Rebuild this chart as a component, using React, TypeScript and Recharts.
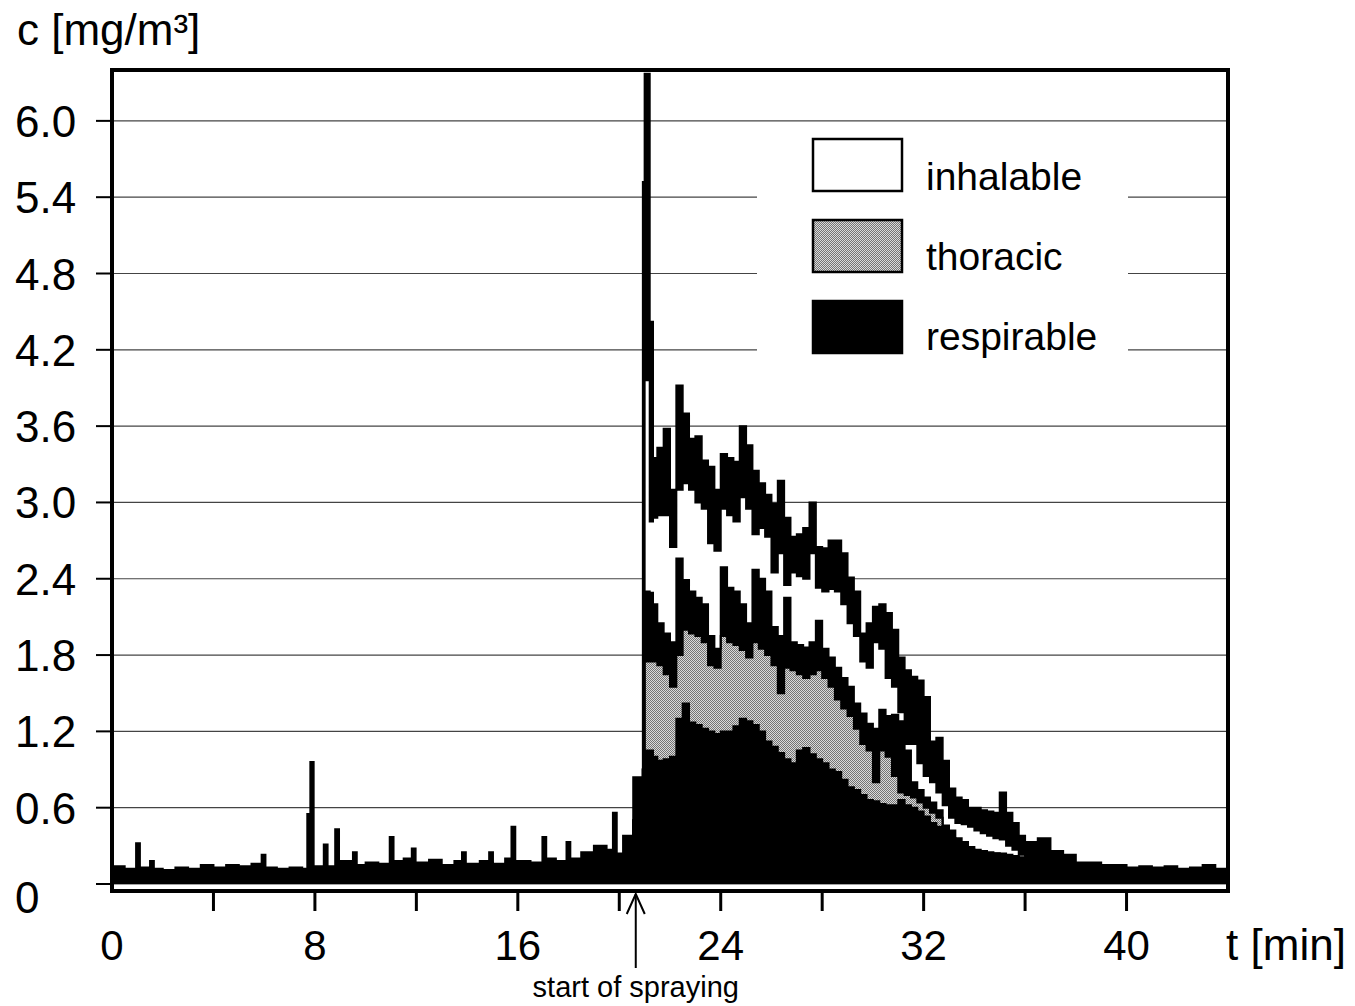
import React from "react";
import {
  Area,
  CartesianGrid,
  ComposedChart,
  Legend,
  ReferenceArea,
  ReferenceLine,
  XAxis,
  YAxis,
} from "recharts";

// sample start times [min]; baseline coarse with short spike slots, peak every 0.25 min
const timeMin = [
  0, 0.5, 0.95, 1.1, 1.5, 1.65, 2, 2.5, 3, 3.5,
  4, 4.5, 5, 5.5, 5.9, 6.05, 6.5, 7, 7.5, 7.7,
  7.82, 7.95, 8.35, 8.5, 8.8, 8.95, 9.5, 9.65, 10, 10.5,
  10.95, 11.1, 11.5, 11.82, 11.97, 12.5, 13, 13.5, 13.8, 13.95,
  14.5, 14.87, 15.02, 15.5, 15.75, 15.9, 16.5, 16.97, 17.12, 17.5,
  17.92, 18.07, 18.5, 19, 19.5, 19.75, 19.9, 20.15, 20.55, 20.93,
  21, 21.2, 21.33,
  21.5, 21.75, 22, 22.25, 22.5, 22.75, 23, 23.25, 23.5, 23.75,
  24, 24.25, 24.5, 24.75, 25, 25.25, 25.5, 25.75, 26, 26.25,
  26.5, 26.75, 27, 27.25, 27.5, 27.75, 28, 28.25, 28.5, 28.75,
  29, 29.25, 29.5, 29.75, 30, 30.25, 30.5, 30.75, 31, 31.25,
  31.5, 31.75, 32, 32.25, 32.5, 32.75, 33, 33.25, 33.5, 33.75,
  34, 34.25, 34.5, 34.75, 35, 35.25, 35.5, 35.75, 36, 36.25,
  36.5, 37, 37.5, 38, 38.5, 39, 39.5, 40, 40.5, 41,
  41.5, 42, 42.5, 43, 43.5, 44,
];

// inhalable: upper and lower edge of the fluctuating trace [mg/m³]
const inhalableHi = [
  0.14, 0.12, 0.32, 0.13, 0.18, 0.12, 0.11, 0.13, 0.12, 0.15,
  0.13, 0.15, 0.14, 0.16, 0.23, 0.13, 0.12, 0.13, 0.12, 0.55,
  0.96, 0.14, 0.31, 0.14, 0.43, 0.18, 0.25, 0.15, 0.17, 0.16,
  0.37, 0.18, 0.2, 0.28, 0.17, 0.19, 0.15, 0.18, 0.25, 0.16,
  0.18, 0.25, 0.16, 0.2, 0.45, 0.18, 0.17, 0.37, 0.2, 0.18,
  0.33, 0.2, 0.25, 0.3, 0.27, 0.56, 0.24, 0.38, 0.84, 5.52,
  6.37, 4.42, 3.35,
  3.43, 3.58, 3.1, 3.92, 3.7, 3.5, 3.52, 3.33, 3.28, 3.1,
  3.38, 3.35, 3.32, 3.6, 3.45, 3.25, 3.15, 3.06, 2.99, 3.17,
  2.88, 2.73, 2.75, 2.8, 3.0, 2.65, 2.64, 2.7, 2.7, 2.6,
  2.41, 2.3, 1.97, 2.05, 2.18, 2.2, 2.13, 2.0, 1.78, 1.68,
  1.63, 1.6, 1.47, 1.12, 1.15, 0.97, 0.75, 0.68, 0.66, 0.6,
  0.6, 0.58, 0.57, 0.56, 0.72, 0.56, 0.48, 0.38, 0.33, 0.33,
  0.36, 0.26, 0.23, 0.17, 0.17, 0.15, 0.15, 0.13, 0.14, 0.13,
  0.14, 0.12, 0.13, 0.15, 0.12, 0.12,
];
const inhalableLo = [
  0.06, 0.05, 0.06, 0.06, 0.05, 0.06, 0.05, 0.06, 0.05, 0.06,
  0.06, 0.05, 0.06, 0.06, 0.06, 0.05, 0.06, 0.05, 0.06, 0.06,
  0.06, 0.06, 0.06, 0.05, 0.06, 0.06, 0.06, 0.06, 0.07, 0.06,
  0.07, 0.06, 0.07, 0.07, 0.06, 0.07, 0.06, 0.07, 0.07, 0.06,
  0.07, 0.07, 0.06, 0.07, 0.07, 0.07, 0.07, 0.08, 0.07, 0.07,
  0.08, 0.07, 0.08, 0.08, 0.08, 0.09, 0.08, 0.1, 0.5, 0.9,
  3.96, 2.85, 2.88,
  2.9, 2.9, 2.65, 3.1, 3.15, 3.1, 3.0, 2.95, 2.68, 2.62,
  2.95, 2.9, 2.85, 3.04, 2.95, 2.75, 2.8, 2.73, 2.45, 2.6,
  2.35, 2.45, 2.42, 2.4, 2.6, 2.33, 2.3, 2.32, 2.3, 2.2,
  2.05, 1.95, 1.75, 1.7, 1.9, 1.85, 1.62, 1.55, 1.35, 1.1,
  1.1, 0.95, 0.85, 0.8, 0.72, 0.62, 0.52, 0.48, 0.47, 0.45,
  0.42, 0.4, 0.38, 0.36, 0.35, 0.3, 0.27, 0.23, 0.2, 0.18,
  0.15, 0.13, 0.12, 0.11, 0.1, 0.09, 0.08, 0.08, 0.07, 0.07,
  0.07, 0.07, 0.06, 0.06, 0.06, 0.06,
];

// thoracic: upper and lower edge of the trace
const thoracicHi = [
  0.06, 0.05, 0.06, 0.06, 0.05, 0.06, 0.05, 0.06, 0.05, 0.06,
  0.06, 0.05, 0.06, 0.06, 0.06, 0.05, 0.06, 0.05, 0.06, 0.06,
  0.06, 0.06, 0.06, 0.05, 0.06, 0.06, 0.06, 0.06, 0.07, 0.06,
  0.07, 0.06, 0.07, 0.07, 0.06, 0.07, 0.06, 0.07, 0.07, 0.06,
  0.07, 0.07, 0.06, 0.07, 0.07, 0.07, 0.07, 0.08, 0.07, 0.07,
  0.08, 0.07, 0.08, 0.08, 0.08, 0.09, 0.08, 0.1, 0.5, 0.9,
  2.3, 2.29, 2.2,
  2.05, 1.97, 1.9, 2.56, 2.39, 2.3, 2.25, 2.2, 1.95, 1.85,
  2.49, 2.33, 2.3, 2.2, 2.05, 2.47, 2.4, 2.3, 2.02, 1.95,
  2.25, 1.9, 1.88, 1.86, 1.9, 2.07, 1.85, 1.78, 1.7, 1.62,
  1.55, 1.42, 1.34, 1.26, 1.22, 1.37, 1.32, 1.33, 1.28, 1.05,
  0.8, 0.74, 0.68, 0.64, 0.58, 0.46, 0.42, 0.36, 0.33, 0.29,
  0.27, 0.26, 0.25, 0.24, 0.24, 0.23, 0.22, 0.21, 0.19, 0.17,
  0.15, 0.13, 0.12, 0.11, 0.1, 0.09, 0.08, 0.08, 0.07, 0.07,
  0.07, 0.07, 0.06, 0.06, 0.06, 0.06,
];
const thoracicLo = [
  0.06, 0.05, 0.06, 0.06, 0.05, 0.06, 0.05, 0.06, 0.05, 0.06,
  0.06, 0.05, 0.06, 0.06, 0.06, 0.05, 0.06, 0.05, 0.06, 0.06,
  0.06, 0.06, 0.06, 0.05, 0.06, 0.06, 0.06, 0.06, 0.07, 0.06,
  0.07, 0.06, 0.07, 0.07, 0.06, 0.07, 0.06, 0.07, 0.07, 0.06,
  0.07, 0.07, 0.06, 0.07, 0.07, 0.07, 0.07, 0.08, 0.07, 0.07,
  0.08, 0.07, 0.08, 0.08, 0.08, 0.09, 0.08, 0.1, 0.5, 0.9,
  1.75, 1.75, 1.75,
  1.72, 1.65, 1.55, 1.8, 2.0, 1.97, 1.95, 1.9, 1.72, 1.7,
  1.95, 1.9, 1.88, 1.84, 1.78, 1.9, 1.85, 1.8, 1.72, 1.5,
  1.7, 1.68, 1.65, 1.62, 1.65, 1.68, 1.62, 1.55, 1.45, 1.38,
  1.32, 1.22, 1.1, 1.05, 0.8, 1.05, 1.0, 0.85, 0.72, 0.7,
  0.68, 0.64, 0.6, 0.56, 0.52, 0.4, 0.36, 0.32, 0.3, 0.27,
  0.26, 0.25, 0.24, 0.24, 0.23, 0.22, 0.21, 0.2, 0.19, 0.17,
  0.15, 0.13, 0.12, 0.11, 0.1, 0.09, 0.08, 0.08, 0.07, 0.07,
  0.07, 0.07, 0.06, 0.06, 0.06, 0.06,
];

// respirable
const respirable = [
  0.06, 0.05, 0.06, 0.06, 0.05, 0.06, 0.05, 0.06, 0.05, 0.06,
  0.06, 0.05, 0.06, 0.06, 0.06, 0.05, 0.06, 0.05, 0.06, 0.06,
  0.06, 0.06, 0.06, 0.05, 0.06, 0.06, 0.06, 0.06, 0.07, 0.06,
  0.07, 0.06, 0.07, 0.07, 0.06, 0.07, 0.06, 0.07, 0.07, 0.06,
  0.07, 0.07, 0.06, 0.07, 0.07, 0.07, 0.07, 0.08, 0.07, 0.07,
  0.08, 0.07, 0.08, 0.08, 0.08, 0.09, 0.08, 0.1, 0.5, 0.9,
  1.05, 1.05, 1.0,
  0.97, 0.98, 1.0, 1.3, 1.42, 1.27, 1.25, 1.22, 1.2, 1.18,
  1.2, 1.2, 1.24, 1.3, 1.28, 1.25, 1.2, 1.12, 1.08, 1.03,
  0.98, 0.95, 1.05, 1.07, 1.02, 0.98, 0.95, 0.9, 0.88, 0.82,
  0.76, 0.74, 0.7, 0.66, 0.65, 0.63, 0.62, 0.62, 0.66, 0.62,
  0.6, 0.57, 0.53, 0.48, 0.45, 0.4, 0.36, 0.32, 0.3, 0.27,
  0.26, 0.25, 0.24, 0.24, 0.23, 0.22, 0.21, 0.2, 0.19, 0.17,
  0.15, 0.13, 0.12, 0.11, 0.1, 0.09, 0.08, 0.08, 0.07, 0.07,
  0.07, 0.07, 0.06, 0.06, 0.06, 0.06,
];

const yTicks = [0, 0.6, 1.2, 1.8, 2.4, 3.0, 3.6, 4.2, 4.8, 5.4, 6.0];
const xTicks = [0, 4, 8, 12, 16, 20, 24, 28, 32, 36, 40, 44];
const xLabelled = [0, 8, 16, 24, 32, 40];
const sprayStartMin = 20.65;
const legendItems = [
  { name: "inhalable", fill: "#ffffff" },
  { name: "thoracic", fill: "url(#stippleLegend)" },
  { name: "respirable", fill: "#000000" },
];

const FONT = '"Liberation Sans", Arial, Helvetica, sans-serif';

const rows = timeMin.map((t, i) => ({
  t,
  inhHi: inhalableHi[i],
  inhBand: [inhalableLo[i], inhalableHi[i]],
  thorHi: thoracicHi[i],
  thorBand: [thoracicLo[i], thoracicHi[i]],
  resp: respirable[i],
}));

function Stipple({ id }: { id: string }) {
  return (
    <pattern id={id} width={2} height={2} patternUnits="userSpaceOnUse">
      <rect width={2} height={2} fill="#dadada" />
      <rect width={1} height={1} fill="#747474" />
      <rect x={1} y={1} width={1} height={1} fill="#747474" />
    </pattern>
  );
}

function YTick(props: any) {
  const { y, payload } = props;
  const v = payload.value;
  return (
    <text x={15} y={y + (v === 0 ? 29 : 16)} fontSize={44} fontFamily={FONT} fill="#000">
      {v === 0 ? "0" : v.toFixed(1)}
    </text>
  );
}

function XTick(props: any) {
  const { x, y, payload } = props;
  const v = payload.value;
  return (
    <g>
      {v > 0 && v < 44 && <line x1={x} x2={x} y1={y} y2={y + 20} stroke="#000" strokeWidth={3} />}
      {xLabelled.includes(v) && (
        <text x={x} y={y + 69} textAnchor="middle" fontSize={42} fontFamily={FONT} fill="#000">
          {v}
        </text>
      )}
    </g>
  );
}

function SprayMarker(props: any) {
  const x = props.x1;
  const bottom = Math.max(props.y1, props.y2);
  const tip = bottom + 3;
  return (
    <g>
      <line x1={x} x2={x} y1={tip} y2={bottom + 77} stroke="#000" strokeWidth={2} />
      <polyline
        points={`${x - 9},${tip + 20} ${x},${tip} ${x + 9},${tip + 20}`}
        fill="none"
        stroke="#000"
        strokeWidth={2}
      />
      <text x={x} y={bottom + 106} textAnchor="middle" fontSize={29} fontFamily={FONT} fill="#000">
        start of spraying
      </text>
    </g>
  );
}

function LegendBox() {
  return (
    <svg width={371} height={234} style={{ display: "block" }}>
      <defs>
        <Stipple id="stippleLegend" />
      </defs>
      {legendItems.map((item, i) => (
        <g key={item.name}>
          <rect x={56} y={11 + i * 81} width={89} height={52} fill={item.fill} stroke="#000" strokeWidth={2.5} />
          <text x={169} y={62 + i * 80} fontSize={39} fontFamily={FONT} fill="#000">
            {item.name}
          </text>
        </g>
      ))}
    </svg>
  );
}

export default function App() {
  return (
    <div style={{ position: "absolute", left: 0, top: 0, width: 1355, height: 1006, background: "#fff" }}>
      <ComposedChart width={1355} height={1006} data={rows} margin={{ top: 70, right: 127, bottom: 0, left: 0 }}>
        <defs>
          <Stipple id="stipple" />
        </defs>
        <CartesianGrid vertical={false} stroke="#444" strokeWidth={1.2} />
        <XAxis
          dataKey="t"
          type="number"
          domain={[0, 44]}
          ticks={xTicks}
          interval={0}
          height={115}
          axisLine={false}
          tickLine={false}
          tickSize={0}
          tickMargin={0}
          tick={XTick}
          allowDataOverflow
          label={() => (
            <text x={1286} y={960} textAnchor="middle" fontSize={44} fontFamily={FONT} fill="#000">
              t [min]
            </text>
          )}
        />
        <YAxis
          type="number"
          domain={[-0.055, 6.4]}
          ticks={yTicks}
          interval={0}
          width={112}
          axisLine={false}
          tickSize={16}
          tickLine={{ stroke: "#000", strokeWidth: 2 }}
          tick={YTick}
          allowDataOverflow
          label={() => (
            <text x={17} y={45} fontSize={44} fontFamily={FONT} fill="#000">
              c [mg/m³]
            </text>
          )}
        />
        <Area type="stepAfter" dataKey="inhHi" fill="#fff" fillOpacity={1} stroke="none" isAnimationActive={false} activeDot={false} />
        <Area type="stepAfter" dataKey="inhBand" fill="#000" fillOpacity={1} stroke="#000" strokeWidth={2} isAnimationActive={false} activeDot={false} />
        <Area type="stepAfter" dataKey="thorHi" fill="url(#stipple) #a8a8a8" fillOpacity={1} stroke="none" isAnimationActive={false} activeDot={false} />
        <Area type="stepAfter" dataKey="thorBand" fill="#000" fillOpacity={1} stroke="#000" strokeWidth={2} isAnimationActive={false} activeDot={false} />
        <Area type="stepAfter" dataKey="resp" fill="#000" fillOpacity={1} stroke="#000" strokeWidth={2} isAnimationActive={false} activeDot={false} />
        <ReferenceArea x1={0} x2={44} y1={-0.055} y2={6.4} fill="none" stroke="#000" strokeWidth={4} ifOverflow="visible" />
        <ReferenceLine x={sprayStartMin} ifOverflow="visible" stroke="#000" shape={SprayMarker} />
        <Legend
          layout="vertical"
          align="center"
          verticalAlign="middle"
          wrapperStyle={{ left: 757, top: 128, width: 371, height: 234, background: "#fff" }}
          content={LegendBox}
        />
      </ComposedChart>
    </div>
  );
}
